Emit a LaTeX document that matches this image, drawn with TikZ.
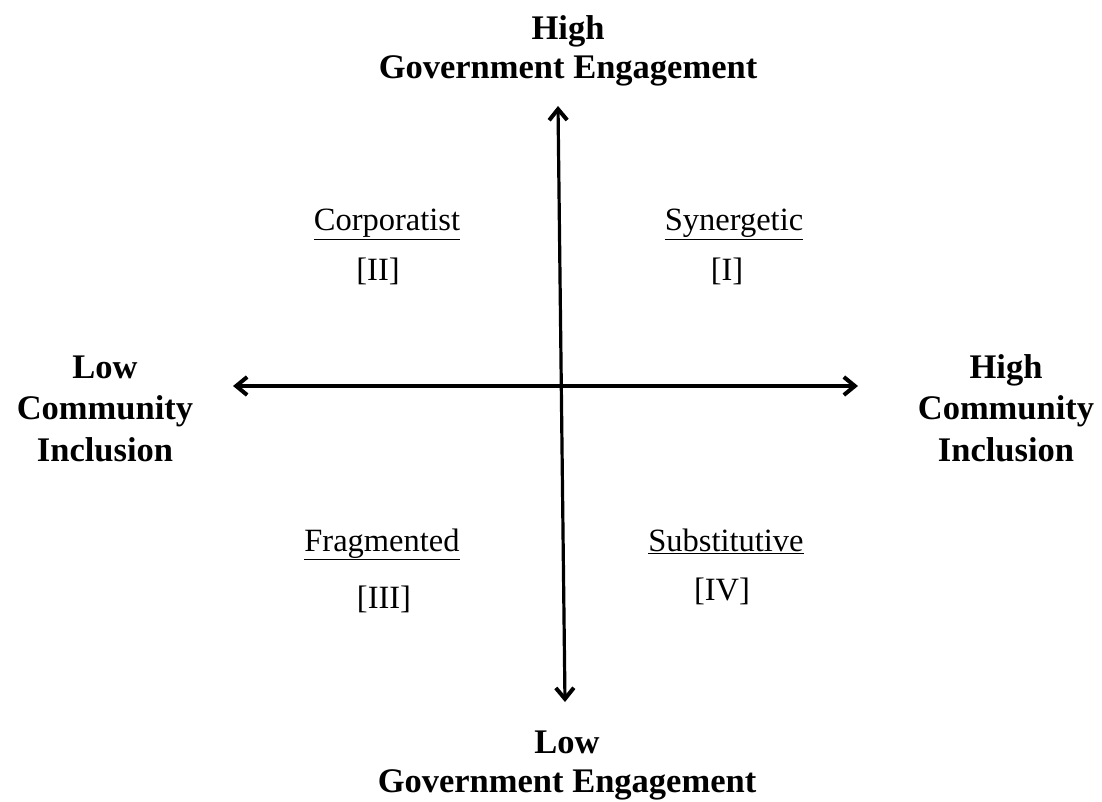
\documentclass[tikz,border=0pt]{standalone}
\usepackage{fontspec}
\setmainfont{Liberation Serif}
\usetikzlibrary{arrows.meta}
\begin{document}
\begin{tikzpicture}[x=1pt,y=-1pt,
  tip/.tip={Straight Barb[length=11pt,width=18pt,line width=4pt]},
  axis/.style={line width=3.2pt,tip-tip},
  title/.style={font=\fontsize{34.5}{39}\selectfont\bfseries,align=center,inner sep=0pt,anchor=base},
  side/.style={title,font=\fontsize{34.5}{41.5}\selectfont\bfseries},
  quad/.style={font=\fontsize{32.5}{36}\selectfont,inner sep=0pt,anchor=base}]
\useasboundingbox (0,0) rectangle (1102,802);
\coordinate (top) at (558,106);
\coordinate (bot) at (565,702);
\coordinate (lft) at (233,386);
\coordinate (rgt) at (858,386);
\draw[axis] (bot) -- (top);
\draw[axis] (lft) -- (rgt);
\node[title] (ht) at (568,79) {High\\Government Engagement};
\node[title] (lb) at (567,792) {Low\\Government Engagement};
\node[side] (lc) at (105,461) {Low\\Community\\Inclusion};
\node[side] (hc) at (1006,461) {High\\Community\\Inclusion};
\node[quad] (q2) at (387,231) {\underline{Corporatist}};
\node[quad] (n2) at (378,280) {[II]};
\node[quad] (q1) at (734,231) {\underline{Synergetic}};
\node[quad] (n1) at (727,280) {[I]};
\node[quad] (q3) at (382,551) {\underline{Fragmented}};
\node[quad] (n3) at (384,608) {[III]};
\node[quad] (q4) at (726,551) {\underline{Substitutive}};
\node[quad] (n4) at (722,600) {[IV]};
\end{tikzpicture}
\end{document}
